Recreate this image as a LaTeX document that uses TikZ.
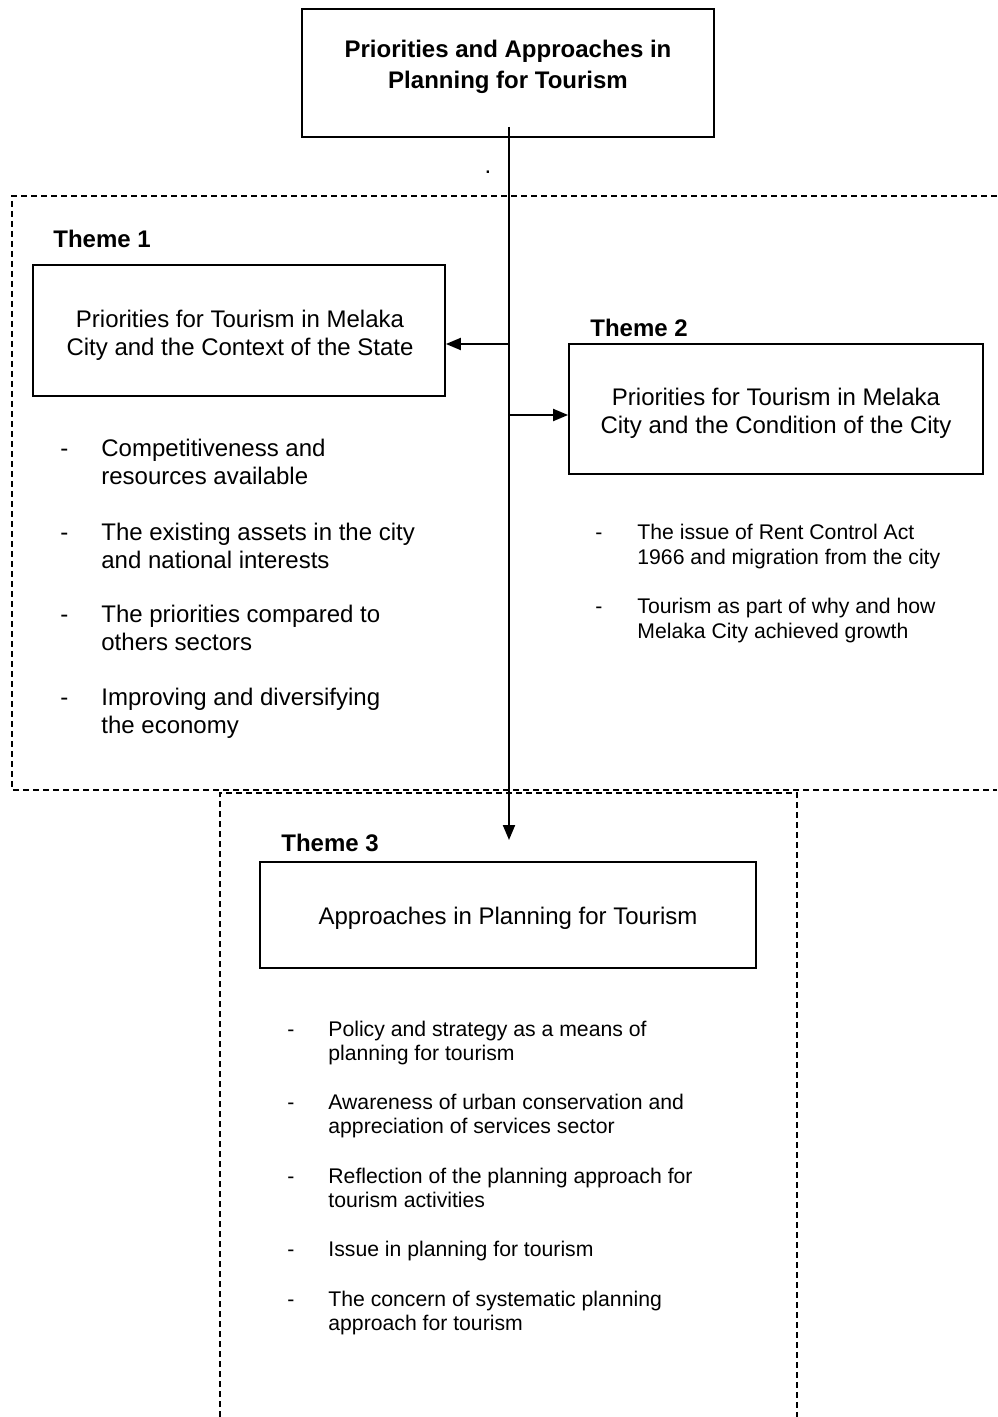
\documentclass[tikz,border=0pt]{standalone}
\usepackage{fontspec}
\setmainfont{Liberation Sans}
\usetikzlibrary{arrows.meta, positioning}
\newcommand{\bigtxt}{\fontsize{12}{14}\selectfont}
\newcommand{\midtxt}{\fontsize{10.6}{12.5}\selectfont}
\newcommand{\smalltxt}{\fontsize{10.6}{12}\selectfont}
\newcommand{\lines}[1]{\begin{tabular}[t]{@{}l@{}}#1\end{tabular}}

\begin{document}
\begin{tikzpicture}[x=0.5pt, y=-0.5pt, >={Triangle[length=7.5pt,width=6pt]},
    box/.style={draw, line width=0.9pt, inner sep=0pt},
    boxtext/.style={align=center, font=\bigtxt, inner sep=0pt},
    frame/.style={line width=0.6pt, dash pattern=on 3pt off 2pt},
    link/.style={line width=1pt, ->},
    theme/.style={font=\bfseries\bigtxt, anchor=base west, inner sep=0pt},
    item/.style={anchor=base west, inner sep=0pt}]
  \useasboundingbox (0,0) rectangle (997,1417);

  % dashed frames round the themes
  \draw[frame] (997,196) -- (12,196) -- (12,790) -- (997,790);
  \draw[frame] (220,1417) -- (220,793) -- (797,793) -- (797,1417);

  % top box
  \node[box, minimum width=206pt, minimum height=64pt] (top) at (508,73) {};
  \node[boxtext, font=\bfseries\fontsize{12}{15.5}\selectfont] (top-text) at (508,67)
    {Priorities and Approaches in\\Planning for Tourism};
  \node[anchor=base, inner sep=0pt, font=\bigtxt] (stray) at (488,174) {.};

  % theme boxes
  \node[box, minimum width=206pt, minimum height=65.5pt] (t1) at (239,330.5) {};
  \node[boxtext] (t1-text) at (240,335.5)
    {Priorities for Tourism in Melaka\\City and the Context of the State};
  \node[box, minimum width=207pt, minimum height=65pt] (t2) at (776,409) {};
  \node[boxtext] (t2-text) at (776,413)
    {Priorities for Tourism in Melaka\\City and the Condition of the City};
  \node[box, minimum width=248pt, minimum height=53pt] (t3) at (508,915) {};
  \node[boxtext] (t3-text) at (508,918) {Approaches in Planning for Tourism};

  \node[theme] (t1-label) at (53,248) {Theme 1};
  \node[theme] (t2-label) at (590,336) {Theme 2};
  \node[theme] (t3-label) at (281,851) {Theme 3};

  % connectors
  \coordinate (trunk) at (509,127);
  \coordinate (j1) at (509,344);
  \coordinate (j2) at (509,415);
  \coordinate (trunk-end) at (509,840);
  \draw[link] (trunk) -- (trunk-end);
  \draw[link] (j1) -- (j1 -| t1.east);
  \draw[link] (j2) -- (j2 -| t2.west);

  % theme 1 points
  \foreach \y/\txt [count=\i] in {456/{Competitiveness and\\resources available},
      540/{The existing assets in the city\\and national interests},
      622/{The priorities compared to\\others sectors},
      705/{Improving and diversifying\\the economy}} {
    \node[item, font=\bigtxt] (d1-\i) at (60,\y) {-};
    \node[item, font=\bigtxt] (p1-\i) at (101,\y) {\lines{\txt}};
  }

  % theme 2 points
  \foreach \y/\txt [count=\i] in {539/{The issue of Rent Control Act\\1966 and migration from the city},
      613/{Tourism as part of why and how\\Melaka City achieved growth}} {
    \node[item, font=\midtxt] (d2-\i) at (595,\y) {-};
    \node[item, font=\midtxt] (p2-\i) at (637,\y) {\lines{\txt}};
  }

  % theme 3 points
  \foreach \y/\txt [count=\i] in {1036/{Policy and strategy as a means of\\planning for tourism},
      1109/{Awareness of urban conservation and\\appreciation of services sector},
      1183/{Reflection of the planning approach for\\tourism activities},
      1256/{Issue in planning for tourism},
      1306/{The concern of systematic planning\\approach for tourism}} {
    \node[item, font=\smalltxt] (d3-\i) at (287,\y) {-};
    \node[item, font=\smalltxt] (p3-\i) at (328,\y) {\lines{\txt}};
  }
\end{tikzpicture}
\end{document}
